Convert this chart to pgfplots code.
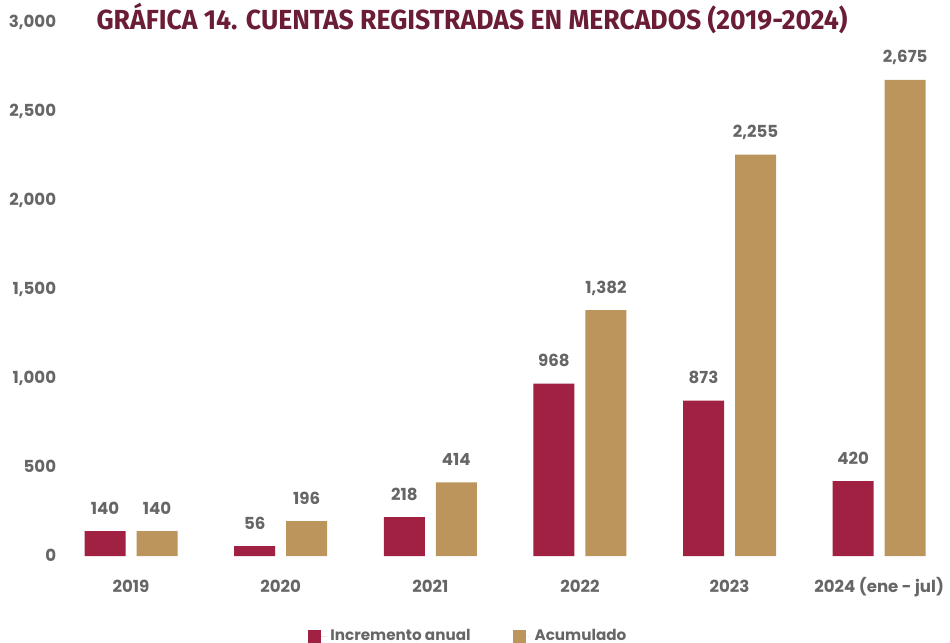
\documentclass[border=0pt]{standalone}
\usepackage{pgfplots}
\pgfplotsset{compat=1.18}
\usepackage{graphicx}
\usepackage{fontspec}
\setmainfont{Poppins}
\newfontfamily\titlefont{Fira Sans}
\definecolor{maroon}{HTML}{A02142}
\definecolor{tanc}{HTML}{BC955C}
\definecolor{titlec}{HTML}{6B1D35}
\definecolor{txt}{HTML}{666666}
\newcommand{\lblfont}{\bfseries\fontsize{8.3bp}{10bp}\selectfont}
\newcommand{\legfont}{\bfseries\fontsize{7.6bp}{9bp}\selectfont}
\begin{document}
\begin{tikzpicture}
\begin{axis}[name=ax,
  width=444bp, height=267bp, scale only axis,
  ybar, bar width=20.5bp,
  xmin=-0.475, xmax=5.46, ymin=0, ymax=3000,
  axis line style={draw=none}, tick style={draw=none}, major tick length=0pt,
  xtick={0,1,2,3,4,5},
  xticklabels={2019,2020,2021,2022,2023,{2024 (ene - jul)}},
  ytick={0,500,1000,1500,2000,2500,3000},
  /pgf/number format/assume math mode=true,
  /pgf/number format/1000 sep={,},
  tick label style={font=\lblfont, text=txt},
  yticklabel style={anchor=base east, inner sep=0pt, xshift=-1.75bp, yshift=-2.9bp},
  xticklabel style={anchor=base, inner sep=0pt, yshift=-18bp},
  nodes near coords,
  nodes near coords style={font=\lblfont, text=txt, anchor=base, inner sep=0pt, yshift=8.5bp},
  clip=false,
  legend style={at={(0.461,-0.15)}, anchor=center, draw=none, fill=none,
    font=\legfont, text=txt, legend columns=2,
    /tikz/every even column/.append style={column sep=19bp}},
  legend image code/.code={\path[#1, draw=none] (0bp,-3.25bp) rectangle (6.5bp,3.25bp); \path (0bp,0bp) -- (9bp,0bp);},
]
\addplot[fill=maroon, draw=none, bar shift=-13bp] coordinates {(0,140) (1,56) (2,218) (3,968) (4,873) (5,420)};
\addplot[fill=tanc, draw=none, bar shift=13bp] coordinates {(0,140) (1,196) (2,414) (3,1382) (4,2255) (5,2675)};
\legend{Incremento anual, Acumulado}
\node[anchor=base, inner sep=0pt, text=titlec, yshift=-3.8bp] at (rel axis cs:0.464,1)
  {\resizebox{375.5bp}{\height}{\titlefont\bfseries\fontsize{13.8bp}{16bp}\selectfont GRÁFICA 14. CUENTAS REGISTRADAS EN MERCADOS (2019-2024)}};
\end{axis}
\pgfresetboundingbox
\path[use as bounding box] ([shift={(-30bp,-43.5bp)}]ax.south west) rectangle ([shift={(445bp,278bp)}]ax.south west);
\end{tikzpicture}
\end{document}
